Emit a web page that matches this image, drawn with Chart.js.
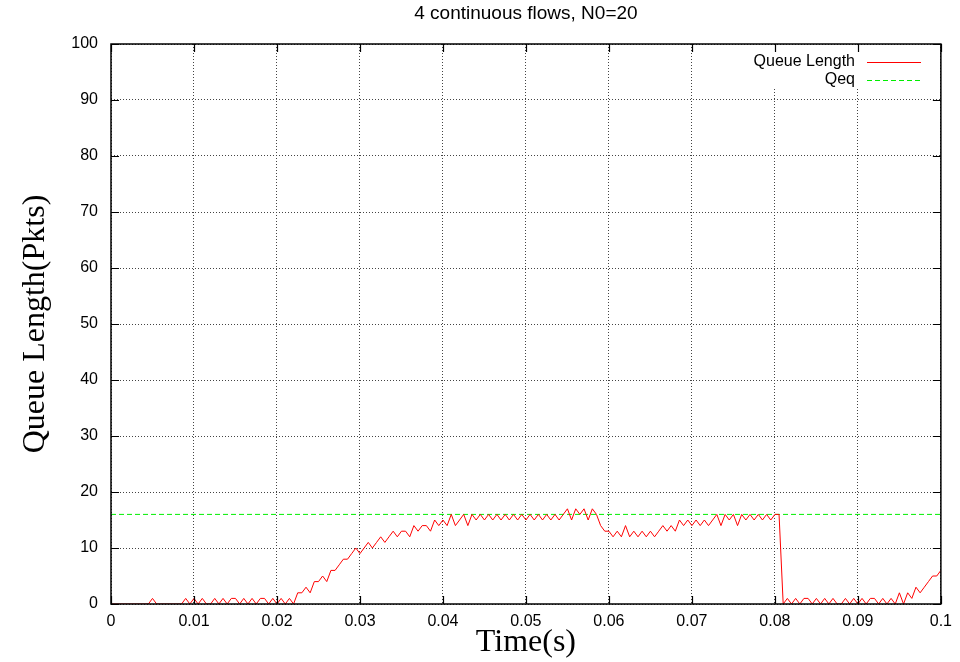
<!DOCTYPE html>
<html>
<head>
<meta charset="utf-8">
<script src="https://cdn.jsdelivr.net/npm/chart.js@4.4.0/dist/chart.umd.min.js"></script>
<style>
  html, body { margin: 0; padding: 0; background: #fff; }
  #wrap { width: 960px; height: 662px; }
</style>
</head>
<body>
<div id="wrap"><canvas id="chart" width="960" height="662"></canvas></div>
<script>
const timeStep = 0.0005;
const queueLength = [
    0, 0, 0, 0, 0, 0, 0, 0, 0, 0,
    1, 0, 0, 0, 0, 0, 0, 0, 1, 0,
    1, 0, 1, 0, 0, 1, 0, 1, 0, 1,
    1, 0, 1, 0, 1, 0, 1, 1, 0, 1,
    0, 1, 0, 1, 0, 2, 2, 3, 2, 4,
    4, 5, 4, 6, 6, 7, 8, 8, 9, 10,
    9, 10, 11, 10, 11, 12, 11, 12, 13, 12,
    13, 13, 12, 14, 13, 14, 14, 13, 15, 14,
    15, 14, 16, 14, 15, 16, 14, 16, 15, 16,
    15, 16, 15, 16, 15, 16, 15, 16, 15, 16,
    15, 16, 15, 16, 15, 16, 15, 16, 15, 16,
    17, 15, 17, 16, 17, 15, 17, 16, 14, 13,
    13, 12, 13, 12, 14, 12, 13, 12, 13, 12,
    13, 12, 13, 14, 13, 14, 13, 15, 14, 15,
    14, 15, 14, 15, 14, 15, 16, 14, 16, 15,
    16, 14, 16, 15, 16, 15, 16, 15, 16, 15,
    16, 16, 0, 1, 0, 1, 0, 1, 1, 0,
    1, 0, 1, 0, 1, 0, 0, 1, 0, 1,
    0, 1, 0, 1, 1, 0, 1, 0, 1, 0,
    2, 0, 2, 1, 3, 2, 3, 4, 5, 5,
    6
];
const qeq = [16, 16];
const qeqTimes = [0, 0.1];
const seriesNames = ['Queue Length', 'Qeq'];
const xTicks = [0, 0.01, 0.02, 0.03, 0.04, 0.05, 0.06, 0.07, 0.08, 0.09, 0.1];
const xTickLabels = ['0', '0.01', '0.02', '0.03', '0.04', '0.05', '0.06', '0.07', '0.08', '0.09', '0.1'];
const yTicks = [0, 10, 20, 30, 40, 50, 60, 70, 80, 90, 100];
const chartTitle = '4 continuous flows, N0=20';

const RED = '#ff0000';
const GREEN = '#00ee00';
const SANS = 'Liberation Sans, Arial, sans-serif';
const SERIF = 'Liberation Serif, Times New Roman, serif';

const queuePoints = queueLength.map((v, i) => ({ x: i * timeStep, y: v }));
const qeqPoints = qeq.map((v, i) => ({ x: qeqTimes[i], y: v }));

// gnuplot-style frame: box, inward ticks on all four sides, legend inside top right
const framePlugin = {
    id: 'frame',
    beforeDatasetsDraw(chart) {
        const { ctx, chartArea: a } = chart;
        ctx.save();
        ctx.fillStyle = '#fff';
        ctx.fillRect(700, a.top + 1, a.right - 701, 44);
        ctx.restore();
    },
    afterDraw(chart) {
        const { ctx, chartArea: a, scales } = chart;
        ctx.save();
        // title centred over the plot area
        ctx.font = '19px ' + SANS;
        ctx.fillStyle = '#000';
        ctx.textAlign = 'center';
        ctx.textBaseline = 'middle';
        ctx.fillText(chartTitle, (a.left + a.right) / 2, 14);

        ctx.strokeStyle = '#000';
        ctx.lineWidth = 1.5;
        ctx.strokeRect(a.left, a.top, a.right - a.left, a.bottom - a.top);
        ctx.lineWidth = 1.2;
        ctx.beginPath();
        xTicks.forEach(v => {
            const px = Math.round(scales.x.getPixelForValue(v)) + 0.5;
            ctx.moveTo(px, a.bottom); ctx.lineTo(px, a.bottom - 8);
            ctx.moveTo(px, a.top); ctx.lineTo(px, a.top + 8);
        });
        yTicks.forEach(v => {
            const py = Math.round(scales.y.getPixelForValue(v)) + 0.5;
            ctx.moveTo(a.left, py); ctx.lineTo(a.left + 8, py);
            ctx.moveTo(a.right, py); ctx.lineTo(a.right - 8, py);
        });
        ctx.stroke();

        // legend
        ctx.font = '16px ' + SANS;
        ctx.textAlign = 'right';
        ctx.textBaseline = 'middle';
        const colors = [RED, GREEN];
        const dashes = [[], [5, 3]];
        seriesNames.forEach((name, i) => {
            const y = a.top + 18 + i * 18;
            ctx.fillText(name, 855, y);
            ctx.beginPath();
            ctx.strokeStyle = colors[i];
            ctx.lineWidth = 1;
            ctx.setLineDash(dashes[i]);
            ctx.moveTo(867, y + 0.5);
            ctx.lineTo(921, y + 0.5);
            ctx.stroke();
        });
        ctx.restore();
    }
};

new Chart(document.getElementById('chart'), {
    type: 'line',
    data: {
        datasets: [
            {
                label: seriesNames[0],
                data: queuePoints,
                borderColor: RED,
                borderWidth: 1,
                pointRadius: 0,
                tension: 0,
                fill: false
            },
            {
                label: seriesNames[1],
                data: qeqPoints,
                borderColor: GREEN,
                borderWidth: 1,
                borderDash: [5, 3],
                pointRadius: 0,
                fill: false
            }
        ]
    },
    options: {
        responsive: false,
        animation: false,
        layout: { padding: { left: 0, right: 19, top: 44, bottom: 0 } },
        plugins: {
            legend: { display: false },
            tooltip: { enabled: false },
            title: { display: false }
        },
        scales: {
            x: {
                type: 'linear',
                min: 0,
                max: 0.1,
                afterBuildTicks: s => { s.ticks = xTicks.map(v => ({ value: v })); },
                afterFit: s => { s.height = 58; },
                ticks: {
                    callback: (v, i) => xTickLabels[i],
                    color: '#000',
                    font: { family: SANS, size: 16 },
                    padding: 8,
                    autoSkip: false,
                    maxRotation: 0,
                    minRotation: 0
                },
                grid: { color: '#444', lineWidth: 1, drawTicks: false },
                border: { display: false, dash: [1, 2] },
                title: {
                    display: true,
                    text: 'Time(s)',
                    color: '#000',
                    font: { family: SERIF, size: 32 },
                    padding: { top: 0, bottom: 0 }
                }
            },
            y: {
                min: 0,
                max: 100,
                afterBuildTicks: s => { s.ticks = yTicks.map(v => ({ value: v })); },
                afterFit: s => { s.width = 111; },
                ticks: {
                    color: '#000',
                    font: { family: SANS, size: 16 },
                    padding: 13
                },
                grid: { color: '#444', lineWidth: 1, drawTicks: false },
                border: { display: false, dash: [1, 2] },
                title: {
                    display: true,
                    text: 'Queue Length(Pkts)',
                    color: '#000',
                    font: { family: SERIF, size: 32 },
                    padding: { top: 16, bottom: 0 }
                }
            }
        }
    },
    plugins: [framePlugin]
});
</script>
</body>
</html>
